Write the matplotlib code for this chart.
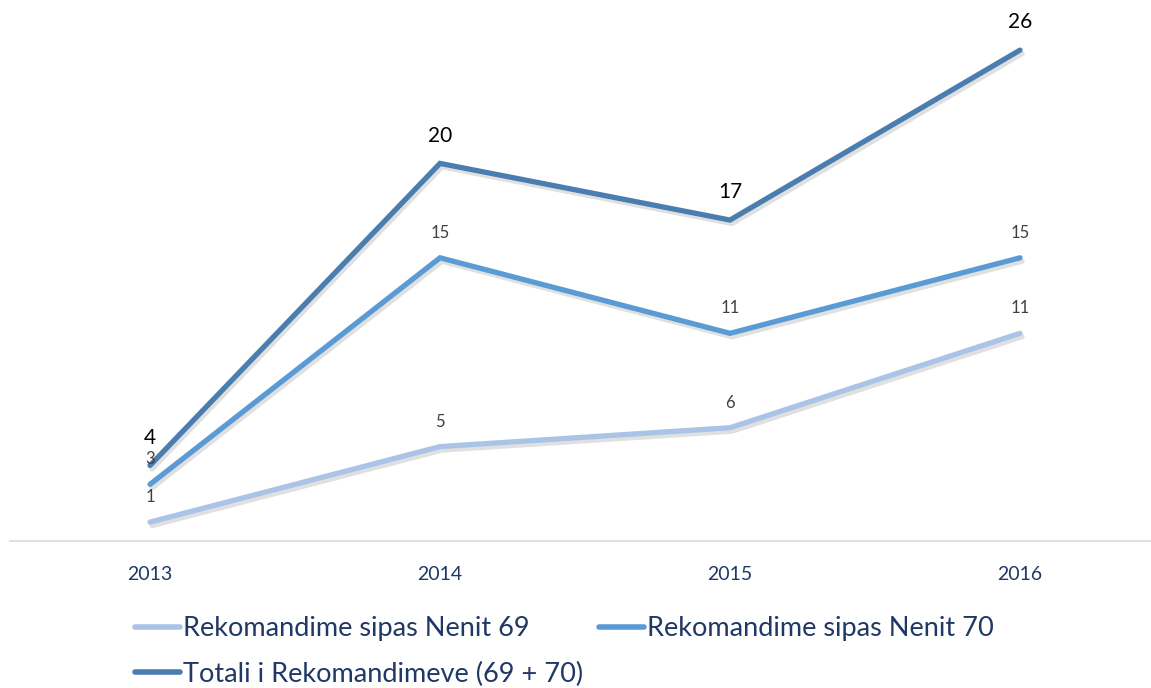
import matplotlib
matplotlib.use("Agg")
import matplotlib.pyplot as plt
import matplotlib.patheffects as pe

years = [2013, 2014, 2015, 2016]
nenit69 = [1, 5, 6, 11]
nenit70 = [3, 15, 11, 15]
totali = [4, 20, 17, 26]
labels = ["Rekomandime sipas Nenit 69", "Rekomandime sipas Nenit 70", "Totali i Rekomandimeve (69 + 70)"]
colors = ["#A9C4E6", "#5B9BD5", "#4A7DB0"]

plt.rcParams['font.family'] = ['Lato', 'DejaVu Sans']

fig = plt.figure(figsize=(11.51, 6.88), dpi=100)
ax = fig.add_axes([10/1151, (688-541)/688, 1140/1151, 541/688])

shadow = [pe.SimpleLineShadow(offset=(1.5, -2.5), shadow_color='#000000', alpha=0.12, rho=0.3), pe.Normal()]

for vals, col, lab, big in [(nenit69, colors[0], labels[0], False),
                            (nenit70, colors[1], labels[1], False),
                            (totali, colors[2], labels[2], True)]:
    ax.plot(years, vals, color=col, lw=3.8, solid_capstyle='round',
            solid_joinstyle='miter', path_effects=shadow, label=lab)
    for x, v in zip(years, vals):
        if big:
            ax.annotate(str(v), (x, v), xytext=(0, 20), textcoords='offset points',
                        ha='center', va='center', fontsize=15, color='#000000')
        else:
            ax.annotate(str(v), (x, v), xytext=(0, 18), textcoords='offset points',
                        ha='center', va='center', fontsize=12, color='#404040')

ax.set_xlim(2013 - 140/290, 2016 + 130/290)
ax.set_ylim(0, 541/18.88)
for s in ['top', 'right', 'left']:
    ax.spines[s].set_visible(False)
ax.spines['bottom'].set_color('#D9D9D9')
ax.spines['bottom'].set_linewidth(1.2)
ax.set_yticks([])
ax.set_xticks(years)
ax.set_xticklabels([str(y) for y in years], fontsize=14, color='#1F3864')
ax.tick_params(axis='x', length=0, pad=18)

leg_handles = []
for col in colors:
    l, = ax.plot([], [], color=col, lw=4, solid_capstyle='round')
    leg_handles.append(l)
order = [0, 2, 1]
leg = fig.legend([leg_handles[i] for i in order], [labels[i] for i in order],
                 ncol=2, loc='upper left', bbox_to_anchor=(135/1151, 1 - 616/688),
                 frameon=False, fontsize=19.5, handlelength=1.65, handletextpad=0.12,
                 columnspacing=0.6, labelspacing=0.77, borderpad=0, borderaxespad=0)
for t in leg.get_texts():
    t.set_color('#1F3864')

fig.savefig('out.png', dpi=100)
